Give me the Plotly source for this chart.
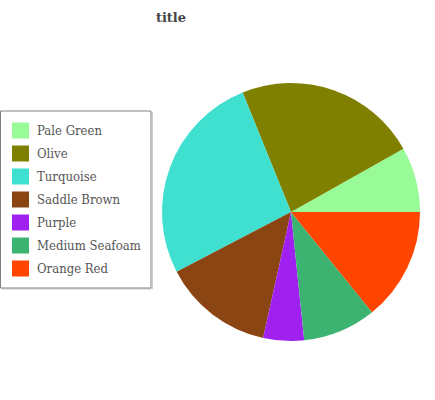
import plotly.graph_objects as go

labels = ["Pale Green", "Olive", "Turquoise", "Saddle Brown", "Purple", "Medium Seafoam", "Orange Red"]
values = [8, 22.5, 26, 13.6, 5, 9, 13.9]
colors = ["#98fb98", "#808000", "#40e0d0", "#8b4513", "#a020f0", "#3cb371", "#ff4500"]

W, H = 435, 400


def px(x):
    return x / W


def py(y):
    return 1 - y / H


# first slice begins at 3 o'clock and runs counterclockwise
start_rotation = 90 - 360 * values[0] / sum(values)

fig = go.Figure(
    go.Pie(
        labels=labels,
        values=values,
        marker=dict(colors=colors, line=dict(width=0)),
        sort=False,
        direction="counterclockwise",
        rotation=start_rotation,
        textinfo="none",
        hoverinfo="label+value",
        domain=dict(x=[px(162), px(420)], y=[py(341), py(83)]),
        showlegend=False,
    )
)

# legend drawn as layout shapes/annotations built from labels/colors
shapes = [
    dict(type="rect", xref="paper", yref="paper",
         x0=px(2), x1=px(152.5), y0=py(289), y1=py(112.5),
         line=dict(width=1, color="#cccccc"), fillcolor="rgba(0,0,0,0)", layer="below"),
    dict(type="rect", xref="paper", yref="paper",
         x0=px(0.5), x1=px(151), y0=py(288), y1=py(111),
         line=dict(width=1, color="#808080"), fillcolor="white", layer="below"),
]
annotations = []
for i, (lab, col) in enumerate(zip(labels, colors)):
    cy = 130.5 + i * 23
    shapes.append(dict(type="rect", xref="paper", yref="paper",
                       x0=px(12), x1=px(29), y0=py(cy + 8), y1=py(cy - 8),
                       line=dict(width=0), fillcolor=col, layer="above"))
    annotations.append(dict(xref="paper", yref="paper", x=px(35), y=py(cy),
                            xanchor="left", yanchor="middle", showarrow=False,
                            text=lab,
                            font=dict(family="DejaVu Serif Condensed, DejaVu Serif", size=13,
                                      color="#555555")))

fig.update_layout(
    width=W,
    height=H,
    margin=dict(l=0, r=0, t=0, b=0),
    paper_bgcolor="white",
    plot_bgcolor="white",
    title=dict(
        text="<b>title</b>",
        x=px(171),
        xanchor="center",
        y=py(17),
        yanchor="middle",
        font=dict(family="DejaVu Serif", size=13, color="#444444"),
    ),
    shapes=shapes,
    annotations=annotations,
    showlegend=False,
)

fig.write_html("out.html")
